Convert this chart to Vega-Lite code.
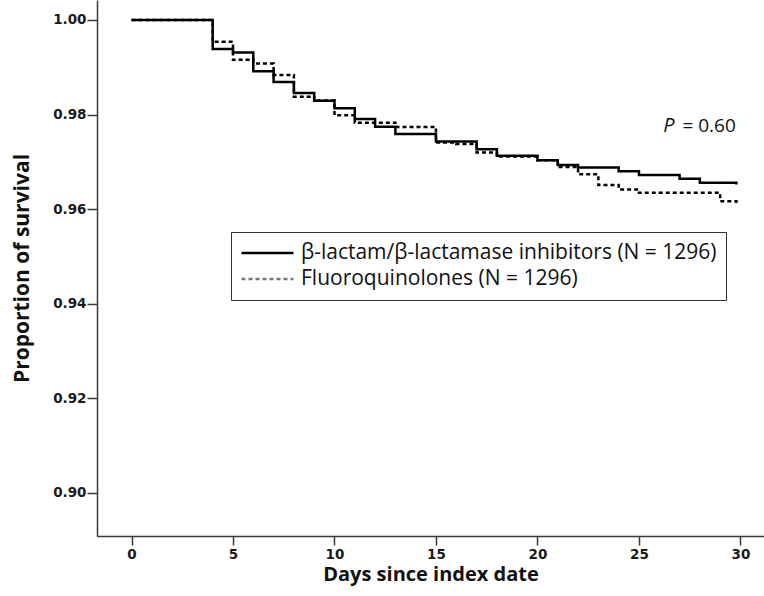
{
  "$schema": "https://vega.github.io/schema/vega-lite/v6.json",
  "width": 667,
  "height": 536,
  "autosize": "none",
  "padding": {"left": 97, "top": 0, "right": 0, "bottom": 60},
  "background": "white",
  "config": {
    "view": {"stroke": null},
    "axis": {
      "grid": false,
      "domainColor": "#3a3a3a",
      "tickColor": "#3a3a3a",
      "domainWidth": 1.5,
      "tickWidth": 1.5,
      "labelFont": "DejaVu Sans",
      "labelFontWeight": "bold",
      "labelFontSize": 13.5,
      "labelColor": "#1a1a1a",
      "titleFont": "Open Sans",
      "titleFontWeight": "bold",
      "titleColor": "#111111"
    }
  },
  "layer": [
    {
      "data": {
        "values": [
          {"day": 0, "surv": 1.0, "group": "β-lactam/β-lactamase inhibitors (N = 1296)"},
          {"day": 4, "surv": 0.99387, "group": "β-lactam/β-lactamase inhibitors (N = 1296)"},
          {"day": 5, "surv": 0.99315, "group": "β-lactam/β-lactamase inhibitors (N = 1296)"},
          {"day": 6, "surv": 0.98919, "group": "β-lactam/β-lactamase inhibitors (N = 1296)"},
          {"day": 7, "surv": 0.98687, "group": "β-lactam/β-lactamase inhibitors (N = 1296)"},
          {"day": 8, "surv": 0.98457, "group": "β-lactam/β-lactamase inhibitors (N = 1296)"},
          {"day": 9, "surv": 0.98291, "group": "β-lactam/β-lactamase inhibitors (N = 1296)"},
          {"day": 10, "surv": 0.98132, "group": "β-lactam/β-lactamase inhibitors (N = 1296)"},
          {"day": 11, "surv": 0.97909, "group": "β-lactam/β-lactamase inhibitors (N = 1296)"},
          {"day": 12, "surv": 0.97745, "group": "β-lactam/β-lactamase inhibitors (N = 1296)"},
          {"day": 13, "surv": 0.97589, "group": "β-lactam/β-lactamase inhibitors (N = 1296)"},
          {"day": 15, "surv": 0.97432, "group": "β-lactam/β-lactamase inhibitors (N = 1296)"},
          {"day": 17, "surv": 0.9727, "group": "β-lactam/β-lactamase inhibitors (N = 1296)"},
          {"day": 18, "surv": 0.97128, "group": "β-lactam/β-lactamase inhibitors (N = 1296)"},
          {"day": 20, "surv": 0.97036, "group": "β-lactam/β-lactamase inhibitors (N = 1296)"},
          {"day": 21, "surv": 0.96936, "group": "β-lactam/β-lactamase inhibitors (N = 1296)"},
          {"day": 22, "surv": 0.96883, "group": "β-lactam/β-lactamase inhibitors (N = 1296)"},
          {"day": 24, "surv": 0.96802, "group": "β-lactam/β-lactamase inhibitors (N = 1296)"},
          {"day": 25, "surv": 0.96723, "group": "β-lactam/β-lactamase inhibitors (N = 1296)"},
          {"day": 27, "surv": 0.96645, "group": "β-lactam/β-lactamase inhibitors (N = 1296)"},
          {"day": 28, "surv": 0.9656, "group": "β-lactam/β-lactamase inhibitors (N = 1296)"},
          {"day": 29.8, "surv": 0.96521, "group": "β-lactam/β-lactamase inhibitors (N = 1296)"},
          {"day": 0, "surv": 1.0, "group": "Fluoroquinolones (N = 1296)"},
          {"day": 4, "surv": 0.99538, "group": "Fluoroquinolones (N = 1296)"},
          {"day": 5, "surv": 0.99157, "group": "Fluoroquinolones (N = 1296)"},
          {"day": 6, "surv": 0.99079, "group": "Fluoroquinolones (N = 1296)"},
          {"day": 7, "surv": 0.98836, "group": "Fluoroquinolones (N = 1296)"},
          {"day": 8, "surv": 0.98377, "group": "Fluoroquinolones (N = 1296)"},
          {"day": 9, "surv": 0.98298, "group": "Fluoroquinolones (N = 1296)"},
          {"day": 10, "surv": 0.97985, "group": "Fluoroquinolones (N = 1296)"},
          {"day": 11, "surv": 0.9783, "group": "Fluoroquinolones (N = 1296)"},
          {"day": 13, "surv": 0.97738, "group": "Fluoroquinolones (N = 1296)"},
          {"day": 15, "surv": 0.97411, "group": "Fluoroquinolones (N = 1296)"},
          {"day": 16, "surv": 0.97377, "group": "Fluoroquinolones (N = 1296)"},
          {"day": 17, "surv": 0.97198, "group": "Fluoroquinolones (N = 1296)"},
          {"day": 18, "surv": 0.97113, "group": "Fluoroquinolones (N = 1296)"},
          {"day": 20, "surv": 0.97036, "group": "Fluoroquinolones (N = 1296)"},
          {"day": 21, "surv": 0.96894, "group": "Fluoroquinolones (N = 1296)"},
          {"day": 22, "surv": 0.96738, "group": "Fluoroquinolones (N = 1296)"},
          {"day": 23, "surv": 0.96511, "group": "Fluoroquinolones (N = 1296)"},
          {"day": 24, "surv": 0.96419, "group": "Fluoroquinolones (N = 1296)"},
          {"day": 25, "surv": 0.96347, "group": "Fluoroquinolones (N = 1296)"},
          {"day": 29, "surv": 0.9617, "group": "Fluoroquinolones (N = 1296)"},
          {"day": 29.8, "surv": 0.96128, "group": "Fluoroquinolones (N = 1296)"}
        ]
      },
      "mark": {"type": "line", "interpolate": "step-after", "color": "black", "strokeWidth": 2.5},
      "encoding": {
        "x": {
          "field": "day",
          "type": "quantitative",
          "scale": {"domain": [-1.7, 31.16], "nice": false, "zero": false},
          "axis": {"values": [0, 5, 10, 15, 20, 25, 30], "format": "d", "title": "Days since index date", "titleFontSize": 20, "tickSize": 9, "labelPadding": 2, "titlePadding": 4}
        },
        "y": {
          "field": "surv",
          "type": "quantitative",
          "scale": {"domain": [0.890909, 1.004228], "nice": false, "zero": false},
          "axis": {"values": [0.9, 0.92, 0.94, 0.96, 0.98, 1.0], "format": ".2f", "title": "Proportion of survival", "titleFontSize": 21, "tickSize": 10, "labelPadding": 1, "titlePadding": 20}
        },
        "strokeDash": {
          "field": "group",
          "type": "nominal",
          "scale": {"domain": ["β-lactam/β-lactamase inhibitors (N = 1296)", "Fluoroquinolones (N = 1296)"], "range": [[1, 0], [4, 3]]},
          "legend": {
            "title": null,
            "orient": "none",
            "legendX": 134,
            "legendY": 232,
            "direction": "vertical",
            "strokeColor": "#333333",
            "fillColor": "white",
            "padding": 9,
            "symbolType": "stroke",
            "symbolSize": 2704,
            "symbolStrokeWidth": 2.5,
            "symbolStrokeColor": "black",
            "labelFont": "Open Sans",
            "labelFontSize": 21,
            "labelColor": "#111111",
            "labelOffset": 6,
            "labelLimit": 700,
            "clipHeight": 24,
            "rowPadding": 2,
            "encode": {
              "symbols": {
                "update": {
                  "stroke": [{"test": "datum.value === 'Fluoroquinolones (N = 1296)'", "value": "#7a7a7a"}, {"value": "black"}],
                  "strokeDash": [{"test": "datum.value === 'Fluoroquinolones (N = 1296)'", "value": [9, 4]}, {"value": [1, 0]}]
                }
              }
            }
          }
        }
      }
    },
    {
      "data": {"values": [{"label": "P"}]},
      "mark": {"type": "text", "font": "Open Sans", "fontSize": 20, "fontWeight": 400, "fontStyle": "italic", "align": "left", "baseline": "middle", "color": "#111111"},
      "encoding": {"text": {"field": "label"}, "x": {"datum": 26.2}, "y": {"datum": 0.97766}}
    },
    {
      "data": {"values": [{"label": "= 0.60"}]},
      "mark": {"type": "text", "font": "Open Sans", "fontSize": 19, "fontWeight": 400, "align": "right", "baseline": "middle", "color": "#111111"},
      "encoding": {"text": {"field": "label"}, "x": {"datum": 29.77}, "y": {"datum": 0.97766}}
    }
  ]
}
